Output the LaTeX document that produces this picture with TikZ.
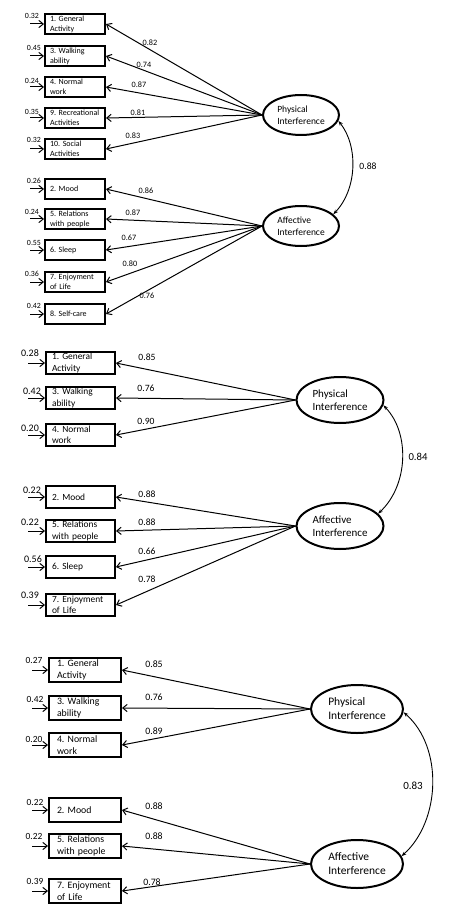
\documentclass[tikz,border=0pt]{standalone}
\usepackage{fontspec}
\setmainfont{Carlito}
\usetikzlibrary{arrows.meta,shapes.geometric}
\frenchspacing

\begin{document}
\begin{tikzpicture}[
  x=0.5pt, y=-0.5pt,
  itemA/.style={draw,line width=1pt,minimum width=30pt,minimum height=10pt,inner xsep=2.5pt,inner ysep=0pt,text width=25pt,align=left,font=\fontsize{4}{4.9}\selectfont},
  itemB/.style={draw,line width=1pt,minimum width=34.5pt,minimum height=11pt,inner xsep=3pt,inner ysep=0pt,text width=28.5pt,align=left,font=\fontsize{4.7}{5.7}\selectfont},
  itemC/.style={draw,line width=1pt,minimum width=36pt,minimum height=12pt,inner xsep=4pt,inner ysep=0pt,text width=28pt,align=left,font=\fontsize{4.9}{6}\selectfont},
  factorA/.style={draw,ellipse,line width=1pt,minimum width=38pt,minimum height=20pt,inner sep=0pt,align=left,font=\fontsize{4.75}{5.8}\selectfont},
  factorB/.style={draw,ellipse,line width=1pt,minimum width=43.5pt,minimum height=23pt,inner sep=0pt,align=left,font=\fontsize{5.5}{6.7}\selectfont},
  factorC/.style={draw,ellipse,line width=1pt,minimum width=46pt,minimum height=24pt,inner sep=0pt,align=left,font=\fontsize{5.75}{7}\selectfont},
  numA/.style={inner sep=0pt,font=\fontsize{4.1}{5}\selectfont},
  numB/.style={inner sep=0pt,font=\fontsize{4.8}{6}\selectfont},
  numC/.style={inner sep=0pt,font=\fontsize{4.9}{6}\selectfont},
  load/.style={line width=0.5pt,-{Straight Barb[length=2.2pt,width=3.6pt]}},
  cov/.style={line width=0.45pt,{Stealth[length=2.4pt,width=1.8pt]}-{Stealth[length=2.4pt,width=1.8pt]}},
]
\useasboundingbox (0,0) rectangle (463,909);

% first model: ten items
\node[itemA] (a1) at (75,24) {1. General\\Activity};
\node[itemA] (a3) at (75,56) {3. Walking\\ability};
\node[itemA] (a4) at (75,87) {4. Normal\\work};
\node[itemA] (a9) at (75,118) {\mbox{9. Recreational}\\Activities};
\node[itemA] (a10) at (75,149) {10. Social\\Activities};
\node[itemA] (a2) at (75,189) {2. Mood};
\node[itemA] (a5) at (75,219) {5. Relations\\with people};
\node[itemA] (a6) at (75,250) {6. Sleep};
\node[itemA] (a7) at (75,282) {7. Enjoyment\\of Life};
\node[itemA] (a8) at (75,314) {8. Self-care};
\node[factorA] (physA) at (301,115) {Physical\\Interference};
\node[factorA] (affA) at (301,226) {Affective\\Interference};

\draw[load] (physA.west) -- (a1.east);
\draw[load] (physA.west) -- (a3.east);
\draw[load] (physA.west) -- (a4.east);
\draw[load] (physA.west) -- (a9.east);
\draw[load] (physA.west) -- (a10.east);
\draw[load] (affA.west) -- (a2.east);
\draw[load] (affA.west) -- (a5.east);
\draw[load] (affA.west) -- (a6.east);
\draw[load] (affA.west) -- (a7.east);
\draw[load] (affA.west) -- (a8.east);
\draw[cov] (physA.-9) .. controls +(20,25) and +(24,-25) .. (affA.20);

\node[numA] (la1) at (150,43) {0.82};
\node[numA] (la3) at (144,65) {0.74};
\node[numA] (la4) at (139,85) {0.87};
\node[numA] (la9) at (138,113) {0.81};
\node[numA] (la10) at (133,136) {0.83};
\node[numA] (la2) at (146,191) {0.86};
\node[numA] (la5) at (133,213) {0.87};
\node[numA] (la6) at (129,238) {0.67};
\node[numA] (la7) at (130,264) {0.80};
\node[numA] (la8) at (147,296) {0.76};
\node[numB] (covA) at (368,166) {0.88};

\foreach \i/\v/\x/\y in {1/0.32/32/16,3/0.45/34/48,4/0.24/32/81,9/0.35/32/112,10/0.32/34/140,
                         2/0.26/34/181,5/0.24/32/212,6/0.55/34/243,7/0.36/32/274,8/0.42/34/306}{
  \coordinate (ea\i) at (30,0 |- a\i.west);
  \draw[load] (ea\i) -- (a\i.west);
  \node[numA,font=\fontsize{3.95}{5}\selectfont] (ta\i) at (\x,\y) {\v};
}

% second model: seven items
\node[itemB] (b1) at (80.5,363) {1. General\\Activity};
\node[itemB] (b3) at (80.5,398) {3. Walking\\ability};
\node[itemB] (b4) at (80.5,435) {4. Normal\\work};
\node[itemB] (b2) at (80.5,497) {2. Mood};
\node[itemB] (b5) at (80.5,531) {5. Relations\\with people};
\node[itemB] (b6) at (80.5,567) {6. Sleep};
\node[itemB] (b7) at (80.5,605) {7. Enjoyment\\of Life};
\node[factorB] (physB) at (340,400) {Physical\\Interference};
\node[factorB] (affB) at (340,526) {Affective\\Interference};

\draw[load] (physB.west) -- (b1.east);
\draw[load] (physB.west) -- (b3.east);
\draw[load] (physB.west) -- (b4.east);
\draw[load] (affB.west) -- (b2.east);
\draw[load] (affB.west) -- (b5.east);
\draw[load] (affB.west) -- (b6.east);
\draw[load] (affB.west) -- (b7.east);
\draw[cov] (physB.-7) .. controls +(27,28) and +(30,-28) .. (affB.18);

\node[numB] (lb1) at (147,357) {0.85};
\node[numB] (lb3) at (146,388) {0.76};
\node[numB] (lb4) at (146,421) {0.90};
\node[numB] (lb2) at (147,494) {0.88};
\node[numB] (lb5) at (147,522) {0.88};
\node[numB] (lb6) at (147,551) {0.66};
\node[numB] (lb7) at (147,579) {0.78};
\node[numB,font=\fontsize{5.35}{6}\selectfont] (covB) at (418,457) {0.84};

\foreach \i/\v/\x/\y in {1/0.28/30/353,3/0.42/32/391,4/0.20/30/428,
                         2/0.22/32/490,5/0.22/30/522,6/0.56/33/559,7/0.39/30/595}{
  \coordinate (eb\i) at (28,0 |- b\i.west);
  \draw[load] (eb\i) -- (b\i.west);
  \node[numB,font=\fontsize{5}{6}\selectfont] (tb\i) at (\x,\y) {\v};
}

% third model: six items
\node[itemC] (c1) at (85,670) {1. General\\Activity};
\node[itemC] (c3) at (85,708) {3. Walking\\ability};
\node[itemC] (c4) at (85,745) {4. Normal\\work};
\node[itemC] (c2) at (85,810) {2. Mood};
\node[itemC] (c5) at (85,846) {5. Relations\\with people};
\node[itemC] (c7) at (85,891) {7. Enjoyment\\of Life};
\node[factorC] (physC) at (357,709) {Physical\\Interference};
\node[factorC] (affC) at (357,864) {Affective\\Interference};

\draw[load] (physC.west) -- (c1.east);
\draw[load] (physC.west) -- (c3.east);
\draw[load] (physC.west) -- (c4.east);
\draw[load] (affC.west) -- (c2.east);
\draw[load] (affC.west) -- (c5.east);
\draw[load] (affC.west) -- (c7.east);
\draw[cov] (physC.-4) .. controls +(40,35) and +(39,-35) .. (affC.10);

\node[numC] (lc1) at (154,664) {0.85};
\node[numC] (lc3) at (154,697) {0.76};
\node[numC] (lc4) at (154,731) {0.89};
\node[numC] (lc2) at (154,806) {0.88};
\node[numC] (lc5) at (154,836) {0.88};
\node[numC] (lc7) at (152,882) {0.78};
\node[numC,font=\fontsize{5.5}{6}\selectfont] (covC) at (413,786) {0.83};

\foreach \i/\v/\x/\y in {1/0.27/34/660,3/0.42/35/699,4/0.20/34/739,
                         2/0.22/35/802,5/0.22/34/836,7/0.39/35/881}{
  \coordinate (ec\i) at (32,0 |- c\i.west);
  \draw[load] (ec\i) -- (c\i.west);
  \node[numC,font=\fontsize{4.7}{6}\selectfont] (tc\i) at (\x,\y) {\v};
}
\end{tikzpicture}
\end{document}
